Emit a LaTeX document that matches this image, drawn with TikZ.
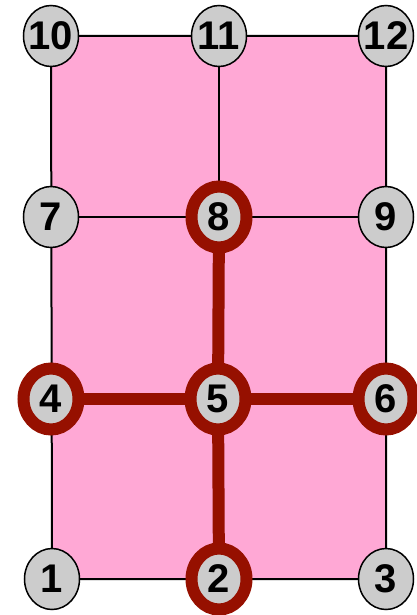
\documentclass[tikz,border=0pt]{standalone}
\usepackage{fontspec}
\setmainfont{Liberation Sans}
\usetikzlibrary{shapes.geometric}
\definecolor{pinkfill}{RGB}{255,168,213}
\definecolor{ringred}{RGB}{150,16,0}
\definecolor{nodegray}{RGB}{204,204,204}
\tikzset{
  vnode/.style={ellipse, fill=nodegray, draw=black, line width=1.5pt,
    minimum width=55pt, minimum height=61pt, inner sep=0pt,
    font=\fontsize{40}{40}\selectfont\bfseries},
  rnode/.style={vnode, draw=ringred, line width=12pt},
  gridline/.style={draw=black, line width=2pt},
  redline/.style={draw=ringred, line width=12pt}
}
\newcommand{\lbl}[1]{\makebox[0pt]{#1}}
\begin{document}
\begin{tikzpicture}[x=1pt,y=-1pt]
\useasboundingbox (0,0) rectangle (416,615);
\coordinate (p1) at (52,579);
\coordinate (p2) at (219,579);
\coordinate (p3) at (386,579);
\coordinate (p4) at (51,399);
\coordinate (p5) at (218,399);
\coordinate (p6) at (386,399);
\coordinate (p7) at (51,217);
\coordinate (p8) at (219,217);
\coordinate (p9) at (386,217);
\coordinate (p10) at (51,36);
\coordinate (p11) at (219,36);
\coordinate (p12) at (386,36);
% background
\fill[pinkfill] (p1) -- (p3) -- (p12) -- (p10) -- cycle;
\draw[gridline] (p1) -- (p3) -- (p12) -- (p10) -- cycle;
\draw[gridline] (p7) -- (p9);
\draw[gridline] (p11) -- (p8);
\draw[gridline] (p4) -- (p6);
% red paths
\draw[redline] (p8) -- (p5);
\draw[redline] (p4) -- (p6);
\draw[redline] (p5) -- (p2);
% nodes
\node[vnode] (n1) at (p1) {\lbl{1}};
\node[rnode] (n2) at (p2) {\lbl{2}};
\node[vnode] (n3) at (p3) {\lbl{3}};
\node[rnode] (n4) at (p4) {\lbl{4}};
\node[rnode] (n5) at (p5) {\lbl{5}};
\node[rnode] (n6) at (p6) {\lbl{6}};
\node[vnode] (n7) at (p7) {\lbl{7}};
\node[rnode] (n8) at (p8) {\lbl{8}};
\node[vnode] (n9) at (p9) {\lbl{9}};
\node[vnode] (n10) at (p10) {\lbl{10}};
\node[vnode] (n11) at (p11) {\lbl{11}};
\node[vnode] (n12) at (p12) {\lbl{12}};
\end{tikzpicture}
\end{document}
